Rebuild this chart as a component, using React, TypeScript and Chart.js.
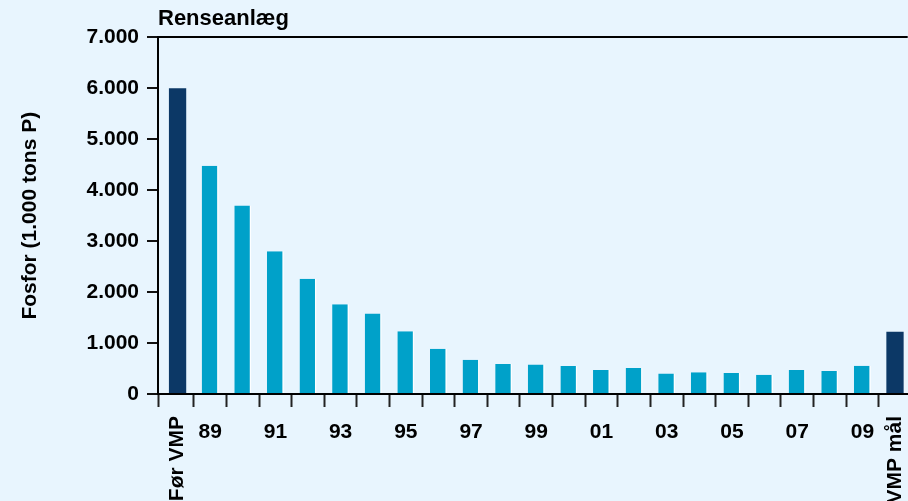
import { useEffect, useRef } from 'react';
import { Chart, registerables } from 'chart.js';

Chart.register(...registerables);

// Phosphorus discharged from treatment plants, 1.000 tons P
const categories = [
  'Før VMP', '89', '90', '91', '92', '93', '94', '95', '96', '97', '98', '99',
  '00', '01', '02', '03', '04', '05', '06', '07', '08', '09', 'VMP mål',
];
const phosphorus = [
  6000, 4480, 3700, 2800, 2260, 1760, 1580, 1230, 890, 670, 590, 580,
  550, 470, 510, 400, 425, 410, 380, 470, 450, 555, 1220,
];
// Baseline and target bars get the dark colour
const benchmarkCategories = ['Før VMP', 'VMP mål'];
// Categories that carry an axis label; the two benchmark labels stand upright
const labelledCategories = ['Før VMP', '89', '91', '93', '95', '97', '99', '01', '03', '05', '07', '09', 'VMP mål'];
const uprightLabels = ['Før VMP', 'VMP mål'];
const yTickValues = [0, 1000, 2000, 3000, 4000, 5000, 6000, 7000];
const chartTitle = 'Renseanlæg';
const yAxisTitle = 'Fosfor (1.000 tons P)';

const NAVY = '#0c3866';
const CYAN = '#00a1c9';
const BACKGROUND = '#e8f5fe';
const FONT_FAMILY = "'Liberation Sans', Arial, Helvetica, sans-serif";
const FONT_SIZE = 21;

// Index range of the horizontal axis (category i sits at value i)
const X_MIN = -0.6;
const X_MAX = 22.39;

const formatThousands = (v: number) => String(v).replace(/\B(?=(\d{3})+(?!\d))/g, '.');

const points = (keep: (c: string) => boolean) =>
  categories
    .map((c, i) => ({ x: i, y: phosphorus[i], c }))
    .filter((p) => keep(p.c))
    .map(({ x, y }) => ({ x, y }));

// Upright labels for the benchmark categories, drawn on the label axis
const uprightLabelPlugin = {
  id: 'uprightLabels',
  afterDraw(chart: any) {
    const scale = chart.scales.xLabels;
    if (!scale) return;
    const ctx = chart.ctx;
    ctx.save();
    ctx.font = `bold ${FONT_SIZE}px ${FONT_FAMILY}`;
    ctx.fillStyle = '#000';
    ctx.textAlign = 'right';
    ctx.textBaseline = 'middle';
    uprightLabels.forEach((label) => {
      const x = scale.getPixelForValue(categories.indexOf(label));
      ctx.save();
      ctx.translate(x, scale.top + 9);
      ctx.rotate(-Math.PI / 2);
      ctx.fillText(label, 0, 0);
      ctx.restore();
    });
    ctx.restore();
  },
};

export default function App() {
  const canvasRef = useRef<HTMLCanvasElement | null>(null);

  useEffect(() => {
    const canvas = canvasRef.current;
    if (!canvas) return;
    const font = { family: FONT_FAMILY, size: FONT_SIZE, weight: 'bold' as const };

    const chart = new Chart(canvas, {
      type: 'bar',
      data: {
        datasets: [
          {
            label: 'benchmark',
            data: points((c) => benchmarkCategories.includes(c)),
            backgroundColor: NAVY,
            barPercentage: 0.53,
            categoryPercentage: 1,
            grouped: false,
            xAxisID: 'x',
          } as any,
          {
            label: 'year',
            data: points((c) => !benchmarkCategories.includes(c)),
            backgroundColor: CYAN,
            borderColor: 'rgba(255,255,255,0.9)',
            borderWidth: { top: 0, right: 1.5, bottom: 0, left: 0 },
            borderSkipped: false,
            barPercentage: 0.52,
            categoryPercentage: 1,
            grouped: false,
            xAxisID: 'x',
          } as any,
        ],
      },
      options: {
        responsive: false,
        animation: false,
        layout: { padding: 0 },
        plugins: {
          legend: { display: false },
          tooltip: { enabled: false },
          title: {
            display: true,
            text: chartTitle,
            align: 'start',
            fullSize: false,
            color: '#000',
            font: { ...font, size: 22 },
            padding: { top: 6, bottom: 5 },
          },
        },
        scales: {
          x: {
            type: 'linear',
            position: 'bottom',
            weight: 0,
            offset: false,
            min: X_MIN,
            max: X_MAX,
            bounds: 'data',
            afterBuildTicks: (scale: any) => {
              scale.ticks = [X_MIN, ...categories.slice(0, -1).map((_, i) => i + 0.5)].map((value) => ({ value }));
            },
            afterFit: (scale: any) => {
              scale.height = 13;
            },
            ticks: { display: false },
            grid: {
              display: true,
              offset: false,
              drawOnChartArea: false,
              drawTicks: true,
              tickLength: 13,
              tickColor: '#222',
              tickWidth: 2,
              color: '#222',
            },
            border: { display: true, color: '#000', width: 2 },
          },
          xLabels: {
            type: 'linear',
            position: 'bottom',
            weight: 1,
            offset: false,
            min: X_MIN,
            max: X_MAX,
            bounds: 'data',
            afterBuildTicks: (scale: any) => {
              scale.ticks = labelledCategories.map((c) => ({ value: categories.indexOf(c) }));
            },
            afterFit: (scale: any) => {
              scale.height = 94;
            },
            ticks: {
              autoSkip: false,
              maxRotation: 0,
              minRotation: 0,
              padding: 13,
              color: '#000',
              font,
              callback: (value: any) => {
                const label = categories[Math.round(Number(value))];
                return uprightLabels.includes(label) ? '' : label;
              },
            },
            grid: { display: false, drawTicks: false, offset: false },
            border: { display: false },
          },
          y: {
            type: 'linear',
            position: 'left',
            min: 0,
            max: 7000,
            afterBuildTicks: (scale: any) => {
              scale.ticks = yTickValues.map((value) => ({ value }));
            },
            afterFit: (scale: any) => {
              scale.width = 158;
            },
            ticks: {
              color: '#000',
              font,
              padding: 8,
              callback: (value: any) => formatThousands(Number(value)),
            },
            grid: {
              display: true,
              drawOnChartArea: true,
              drawTicks: true,
              tickLength: 11,
              lineWidth: 2,
              tickWidth: 2,
              tickColor: '#111',
              color: (ctx: any) => (ctx.tick && ctx.tick.value === 7000 ? '#000' : 'rgba(0,0,0,0)'),
            },
            border: { display: true, color: '#000', width: 2 },
            title: {
              display: true,
              text: yAxisTitle,
              color: '#000',
              font,
              padding: { top: 18, bottom: 0 },
            },
          },
        },
      },
      plugins: [uprightLabelPlugin],
    });

    return () => chart.destroy();
  }, []);

  return (
    <div
      style={{
        position: 'fixed',
        left: 0,
        top: 0,
        width: 908,
        height: 501,
        overflow: 'hidden',
        background: BACKGROUND,
      }}
    >
      <canvas ref={canvasRef} width={908} height={501} style={{ display: 'block' }} />
    </div>
  );
}
